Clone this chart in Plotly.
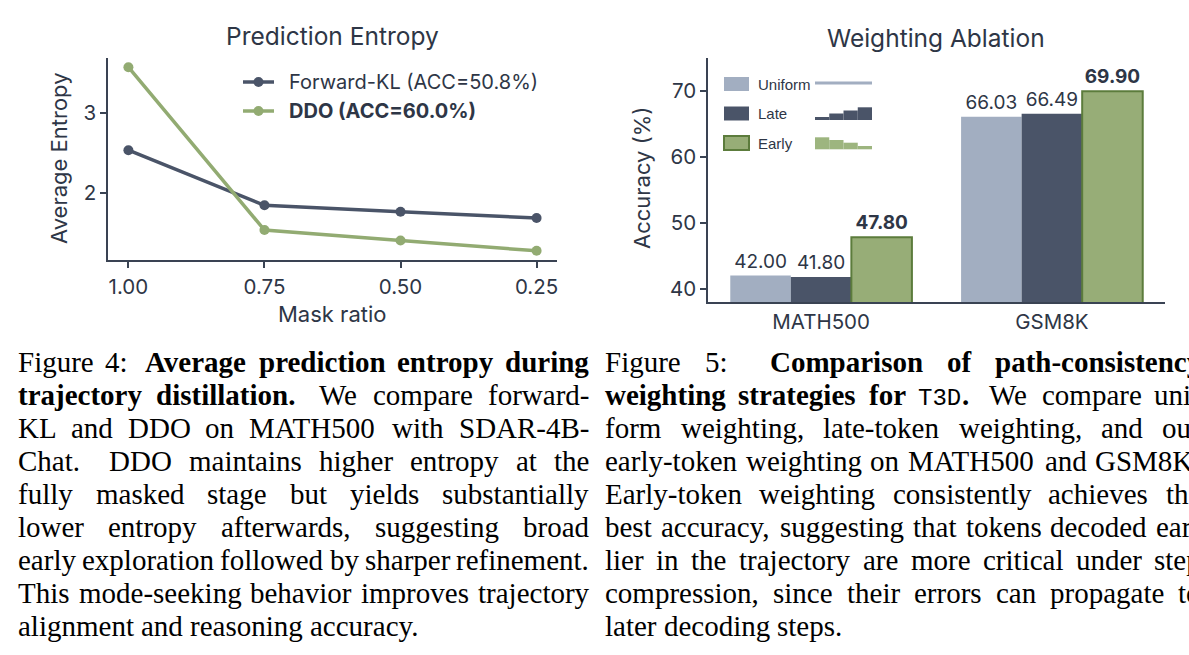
import plotly.graph_objects as go

W, H = 1189, 655


def px(x):
    return x / W


def py(y):
    return 1 - y / H


# ---------------- data ----------------
mask_ratio = [1.00, 0.75, 0.50, 0.25]
mask_tick_text = ["1.00", "0.75", "0.50", "0.25"]
fkl_entropy = [2.53, 1.84, 1.76, 1.68]
ddo_entropy = [3.57, 1.53, 1.40, 1.27]
fkl_label = "Forward-KL (ACC=50.8%)"
ddo_label = "DDO (ACC=60.0%)"

benchmarks = ["MATH500", "GSM8K"]
weight_names = ["Uniform", "Late", "Early"]
uniform_acc = [42.00, 66.03]
late_acc = [41.80, 66.49]
early_acc = [47.80, 69.90]
acc_ticks = [40, 50, 60, 70]

# ---------------- style ----------------
SLATE = "#4a5468"
SAGE = "#92ab72"
UNIFORM = "#a2aec1"
EARLY_FILL = "#97ad77"
EARLY_EDGE = "#5c7c3c"
TEXT = "#2e3646"
AXIS = "#3a4353"
SANS = "Inter"
TICK = 20.5

fig = go.Figure()

# ---------------- left: entropy lines ----------------
fig.add_trace(go.Scatter(x=mask_ratio, y=fkl_entropy, mode="lines+markers", name=fkl_label,
                         line=dict(color=SLATE, width=3.5), marker=dict(size=10, color=SLATE),
                         xaxis="x", yaxis="y", showlegend=False))
fig.add_trace(go.Scatter(x=mask_ratio, y=ddo_entropy, mode="lines+markers", name=ddo_label,
                         line=dict(color=SAGE, width=3.5), marker=dict(size=10, color=SAGE),
                         xaxis="x", yaxis="y", showlegend=False))

xm = 0.05 * (max(mask_ratio) - min(mask_ratio))
all_e = fkl_entropy + ddo_entropy
ym = 0.05 * (max(all_e) - min(all_e))

# ---------------- right: bars ----------------
bar_font = dict(family=SANS, size=19, color=TEXT)
fig.add_trace(go.Bar(x=benchmarks, y=uniform_acc, name=weight_names[0], marker=dict(color=UNIFORM, line=dict(width=0)),
                     texttemplate="%{y:.2f}", textposition="outside", cliponaxis=False, constraintext="none",
                     textfont=bar_font, xaxis="x2", yaxis="y2", showlegend=False))
fig.add_trace(go.Bar(x=benchmarks, y=late_acc, name=weight_names[1], marker=dict(color=SLATE, line=dict(width=0)),
                     texttemplate="%{y:.2f}", textposition="outside", cliponaxis=False, constraintext="none",
                     textfont=bar_font, xaxis="x2", yaxis="y2", showlegend=False))
fig.add_trace(go.Bar(x=benchmarks, y=early_acc, name=weight_names[2],
                     marker=dict(color=EARLY_FILL, line=dict(width=2, color=EARLY_EDGE)),
                     texttemplate="<b>%{y:.2f}</b>", textposition="outside", cliponaxis=False, constraintext="none",
                     textfont=bar_font, xaxis="x2", yaxis="y2", showlegend=False))

axis_common = dict(showline=True, linecolor=AXIS, linewidth=1.5, showgrid=False, zeroline=False,
                   ticks="outside", ticklen=6, tickwidth=1.5, tickcolor=AXIS,
                   tickfont=dict(family=SANS, size=TICK, color=TEXT))

fig.update_layout(
    width=W, height=H, margin=dict(l=0, r=0, t=0, b=0),
    paper_bgcolor="white", plot_bgcolor="white",
    barmode="group", bargap=0.213, bargroupgap=0,
    xaxis=dict(domain=[px(108), px(557)], anchor="y",
               range=[max(mask_ratio) + xm, min(mask_ratio) - xm],
               tickvals=mask_ratio, ticktext=mask_tick_text, ticklabelstandoff=2, **axis_common),
    yaxis=dict(domain=[py(260), py(58)], anchor="x",
               range=[min(all_e) - ym, max(all_e) + ym], dtick=1, tick0=0, **axis_common),
    xaxis2=dict(domain=[px(708), px(1165)], anchor="y2", type="category", range=[-0.49, 1.49],
                **{**axis_common, "ticks": "", "ticklabelstandoff": 1}),
    yaxis2=dict(domain=[py(302), py(57.5)], anchor="x2", range=[38, 75], tickvals=acc_ticks, **axis_common),
)

ann = []
shapes = []


def text_ann(x, y, s, size, family=SANS, color=TEXT, xanchor="center", angle=0):
    ann.append(dict(x=px(x), y=py(y), xref="paper", yref="paper", text=s, showarrow=False,
                    xanchor=xanchor, yanchor="middle", textangle=angle, borderpad=0,
                    font=dict(family=family, size=size, color=color)))


# titles and axis titles
text_ann(332, 36, "Prediction Entropy", 24.5)
text_ann(936, 38, "Weighting Ablation", 24.5)
text_ann(59, 158, "Average Entropy", 22, angle=-90)
text_ann(332, 314, "Mask ratio", 22)
text_ann(642, 178, "Accuracy (%)", 22, angle=-90)

# left legend (manual)
for (ly, color, label) in [(82, SLATE, fkl_label), (111, SAGE, "<b>" + ddo_label + "</b>")]:
    shapes.append(dict(type="line", xref="paper", yref="paper", x0=px(243), x1=px(274), y0=py(ly), y1=py(ly),
                       line=dict(color=color, width=3.5)))
    shapes.append(dict(type="circle", xref="paper", yref="paper", x0=px(253.5), x1=px(263.5),
                       y0=py(ly + 5), y1=py(ly - 5), fillcolor=color, line=dict(width=0)))
    text_ann(288, ly, label, 20, xanchor="left")

# right legend (manual)
leg_rows = [(84, UNIFORM, None), (113.5, SLATE, None), (143, EARLY_FILL, EARLY_EDGE)]
for (cy, fill, edge), name in zip(leg_rows, weight_names):
    shapes.append(dict(type="rect", xref="paper", yref="paper", x0=px(724), x1=px(749), y0=py(cy + 7), y1=py(cy - 7),
                       fillcolor=fill, line=dict(width=2 if edge else 0, color=edge or fill)))
    text_ann(757, cy, name, 15, family="Liberation Sans", xanchor="left")

# weighting-profile icons
shapes.append(dict(type="line", xref="paper", yref="paper", x0=px(815), x1=px(872), y0=py(83), y1=py(83),
                   line=dict(color=UNIFORM, width=3)))
late_tops = [117, 113.5, 110.5, 107.3]
early_tops = [137.3, 140, 142.7, 146]
step_w = (872 - 815) / 4
for i, t in enumerate(late_tops):
    shapes.append(dict(type="rect", xref="paper", yref="paper", x0=px(815 + i * step_w), x1=px(815 + (i + 1) * step_w),
                       y0=py(120), y1=py(t), fillcolor=SLATE, line=dict(width=0)))
for i, t in enumerate(early_tops):
    shapes.append(dict(type="rect", xref="paper", yref="paper", x0=px(815 + i * step_w), x1=px(815 + (i + 1) * step_w),
                       y0=py(149.3), y1=py(t), fillcolor="#9db57f", line=dict(width=0)))

# ---------------- captions ----------------
TR = {'A': 722, 'B': 667, 'C': 667, 'D': 722, 'E': 611, 'F': 556, 'G': 722, 'H': 722, 'I': 333, 'J': 389, 'K': 722,
      'L': 611, 'M': 889, 'N': 722, 'O': 722, 'P': 556, 'Q': 722, 'R': 667, 'S': 556, 'T': 611, 'U': 722, 'V': 722,
      'W': 944, 'X': 722, 'Y': 722, 'Z': 611, 'a': 444, 'b': 500, 'c': 444, 'd': 500, 'e': 444, 'f': 333, 'g': 500,
      'h': 500, 'i': 278, 'j': 278, 'k': 500, 'l': 278, 'm': 778, 'n': 500, 'o': 500, 'p': 500, 'q': 500, 'r': 333,
      's': 389, 't': 278, 'u': 500, 'v': 500, 'w': 722, 'x': 500, 'y': 500, 'z': 444, '.': 250, ',': 250, ':': 278,
      ';': 278, '-': 333, '(': 333, ')': 333, '%': 833}
TB = {'A': 722, 'B': 667, 'C': 722, 'D': 722, 'E': 667, 'F': 611, 'G': 778, 'H': 778, 'I': 389, 'J': 500, 'K': 778,
      'L': 667, 'M': 944, 'N': 722, 'O': 778, 'P': 611, 'Q': 778, 'R': 722, 'S': 556, 'T': 667, 'U': 722, 'V': 722,
      'W': 1000, 'X': 722, 'Y': 722, 'Z': 667, 'a': 500, 'b': 556, 'c': 444, 'd': 556, 'e': 444, 'f': 333, 'g': 500,
      'h': 556, 'i': 278, 'j': 333, 'k': 556, 'l': 278, 'm': 833, 'n': 556, 'o': 500, 'p': 556, 'q': 556, 'r': 444,
      's': 389, 't': 333, 'u': 556, 'v': 500, 'w': 722, 'x': 500, 'y': 500, 'z': 444, '.': 250, ',': 250, ':': 333,
      '-': 333}
CAP = 29
MONO = 24
SPACE = 250


def run_width(t, style):
    if style == "m":
        return 600 * len(t) * MONO / 1000
    tab = TB if style == "b" else TR
    return sum(tab.get(c, 500) for c in t) * CAP / 1000


def tokenize(segments):
    tokens, cur = [], []
    for text, style in segments:
        for i, p in enumerate(text.split(" ")):
            if i > 0 and cur:
                tokens.append(cur)
                cur = []
            if p:
                cur.append((p, style))
    if cur:
        tokens.append(cur)
    return tokens


def place_line(segments, x0, x1, base, justify):
    tokens = tokenize(segments)
    widths = [sum(run_width(t, s) for t, s in tok) for tok in tokens]
    nat, wts = [], []
    for tok in tokens[:-1]:
        sent = tok[-1][0][-1] in ".:"
        nat.append(SPACE * CAP / 1000 * (1.3 if sent else 1.0))
        wts.append(2.0 if sent else 1.0)
    gaps = nat
    if justify and len(tokens) > 1:
        extra = (x1 - x0) - sum(widths) - sum(nat)
        gaps = [g + extra * w / sum(wts) for g, w in zip(nat, wts)]
    x = x0
    for k, tok in enumerate(tokens):
        for t, s in tok:
            if s == "m":
                ann.append(dict(x=px(x), y=py(base - 0.2665 * MONO), xref="paper", yref="paper", text=t,
                                showarrow=False, xanchor="left", yanchor="middle", borderpad=0,
                                font=dict(family="Liberation Mono", size=MONO, color="black")))
            else:
                ann.append(dict(x=px(x), y=py(base - 0.3375 * CAP), xref="paper", yref="paper",
                                text=("<b>%s</b>" % t) if s == "b" else t,
                                showarrow=False, xanchor="left", yanchor="middle", borderpad=0,
                                font=dict(family="Liberation Serif", size=CAP, color="black")))
            x += run_width(t, s)
        if k < len(gaps):
            x += gaps[k]


cap_left = [
    [("Figure 4: ", "r"), ("Average prediction entropy during", "b")],
    [("trajectory distillation.", "b"), (" We compare forward-", "r")],
    [("KL and DDO on MATH500 with SDAR-4B-", "r")],
    [("Chat. DDO maintains higher entropy at the", "r")],
    [("fully masked stage but yields substantially", "r")],
    [("lower entropy afterwards, suggesting broad", "r")],
    [("early exploration followed by sharper refinement.", "r")],
    [("This mode-seeking behavior improves trajectory", "r")],
    [("alignment and reasoning accuracy.", "r")],
]
cap_right = [
    [("Figure 5: ", "r"), ("Comparison of path-consistency", "b")],
    [("weighting strategies for ", "b"), ("T3D", "m"), (". ", "b"), ("We compare uni-", "r")],
    [("form weighting, late-token weighting, and our", "r")],
    [("early-token weighting on MATH500 and GSM8K.", "r")],
    [("Early-token weighting consistently achieves the", "r")],
    [("best accuracy, suggesting that tokens decoded ear-", "r")],
    [("lier in the trajectory are more critical under step", "r")],
    [("compression, since their errors can propagate to", "r")],
    [("later decoding steps.", "r")],
]
BASE0, PITCH = 372, 33
for i, seg in enumerate(cap_left):
    place_line(seg, 17, 588, BASE0 + i * PITCH, i < len(cap_left) - 1)
for i, seg in enumerate(cap_right):
    place_line(seg, 604, 1200, BASE0 + i * PITCH, i < len(cap_right) - 1)

fig.update_layout(annotations=ann, shapes=shapes)
fig.write_html("out.html")
